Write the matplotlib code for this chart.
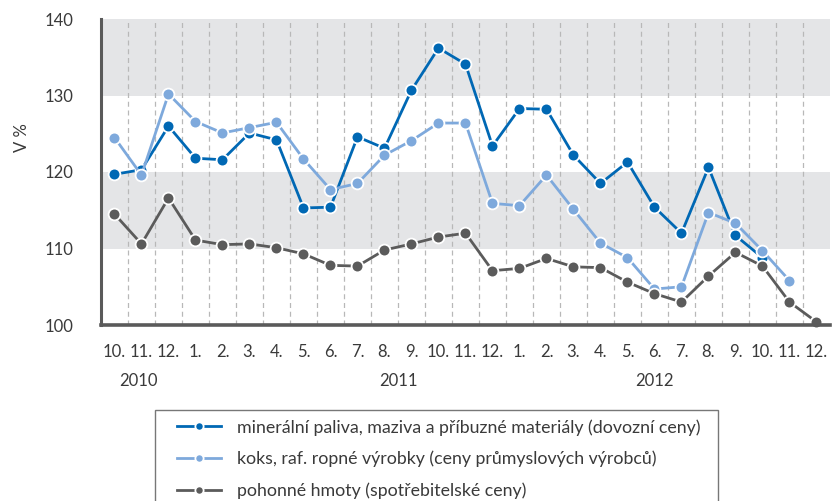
import numpy as np
import matplotlib
matplotlib.use('Agg')
import matplotlib.pyplot as plt
import matplotlib.transforms as mtransforms
import matplotlib.patches as patches

plt.rcParams['font.family'] = ['Lato', 'DejaVu Sans']

months = ['10.', '11.', '12.', '1.', '2.', '3.', '4.', '5.', '6.', '7.', '8.', '9.',
          '10.', '11.', '12.', '1.', '2.', '3.', '4.', '5.', '6.', '7.', '8.', '9.',
          '10.', '11.', '12.']
years = ['2010', '2011', '2012']
year_pos = [0.9, 10.5, 20.0]  # where the year labels sit under the months

# minerální paliva (dovozní ceny), ends 10.2012
mineral = [119.7, 120.3, 126.0, 121.8, 121.6, 125.1, 124.2, 115.3, 115.4, 124.6,
           123.1, 130.7, 136.2, 134.1, 123.4, 128.3, 128.2, 122.2, 118.5, 121.3,
           115.4, 112.0, 120.6, 111.7, 108.8]
# koks, raf. ropné výrobky (ceny průmyslových výrobců), ends 11.2012
koks = [124.5, 119.6, 130.2, 126.6, 125.1, 125.8, 126.5, 121.7, 117.7, 118.5,
        122.2, 124.1, 126.4, 126.4, 115.9, 115.6, 119.6, 115.1, 110.7, 108.8,
        104.7, 105.0, 114.7, 113.3, 109.7, 105.8]
# pohonné hmoty (spotřebitelské ceny), ends 12.2012
pohonne = [114.5, 110.6, 116.6, 111.1, 110.5, 110.6, 110.1, 109.3, 107.8, 107.7,
           109.8, 110.6, 111.5, 112.0, 107.1, 107.4, 108.7, 107.6, 107.5, 105.6,
           104.1, 103.0, 106.4, 109.5, 107.7, 103.0, 100.4]

labels = ['minerální paliva, maziva a příbuzné materiály (dovozní ceny)',
          'koks, raf. ropné výrobky (ceny průmyslových výrobců)',
          'pohonné hmoty (spotřebitelské ceny)']
colors = ['#0068b4', '#7ea9dc', '#5b5b5b']

fig = plt.figure(figsize=(8.37, 5.01), dpi=100)
ax = fig.add_axes([101/837, 1-325/501, 729/837, 306/501])

ax.set_xlim(-0.5, 26.5)
ax.set_ylim(100, 140)

# grey bands
for lo in (110, 130):
    ax.axhspan(lo, lo + 10, color='#e4e5e7', zorder=0, lw=0)

# dashed vertical separators between months
for xv in np.arange(0.5, 26, 1.0):
    ax.axvline(xv, color='#b8b8b8', ls=(0, (4, 3)), lw=0.9, zorder=1)

series = [mineral, koks, pohonne]
for vals, col, lab in zip(series, colors, labels):
    x = np.arange(len(vals))
    ax.plot(x, vals, color=col, lw=2.0, marker='o', ms=8.5, mfc=col,
            mec='white', mew=1.3, label=lab, zorder=3, clip_on=False)

ax.set_xticks(np.arange(len(months)))
ax.set_xticklabels(months)
ax.set_yticks([100, 110, 120, 130, 140])
ax.tick_params(axis='both', length=0, labelsize=12, colors='#3a3a3a')
ax.tick_params(axis='x', pad=14)
ax.tick_params(axis='y', pad=20)

for s in ('top', 'right'):
    ax.spines[s].set_visible(False)
ax.spines['left'].set_color('#5a5a5a')
ax.spines['left'].set_linewidth(2.2)
ax.spines['bottom'].set_color('#5a5a5a')
ax.spines['bottom'].set_linewidth(2.6)
ax.spines['left'].set_zorder(4)
ax.spines['bottom'].set_zorder(4)

fig.text(22/837, 1-138/501, 'V %', rotation=90, ha='center', va='center',
         fontsize=12, color='#3a3a3a')

trans = mtransforms.blended_transform_factory(ax.transData, fig.transFigure)
for yr, xp in zip(years, year_pos):
    ax.text(xp, 1-381/501, yr, transform=trans, ha='center', va='center',
            fontsize=12, color='#3a3a3a')

# legend box (runs off the bottom edge like the original)
fig.patches.append(patches.Rectangle((155/837, -0.05), (718-155)/837, 0.05 + 1-410/501,
                                     transform=fig.transFigure, fill=False,
                                     edgecolor='#777777', lw=1.0))
leg = fig.legend(loc='upper left', bbox_to_anchor=(177/837, 1-419/501),
                 fontsize=12.75, frameon=False, borderpad=0,
                 labelspacing=0.86, handlelength=2.5, handletextpad=0.9,
                 markerscale=0.7, borderaxespad=0)
for t in leg.get_texts():
    t.set_color('#3a3a3a')

fig.savefig('out.png', dpi=100)
